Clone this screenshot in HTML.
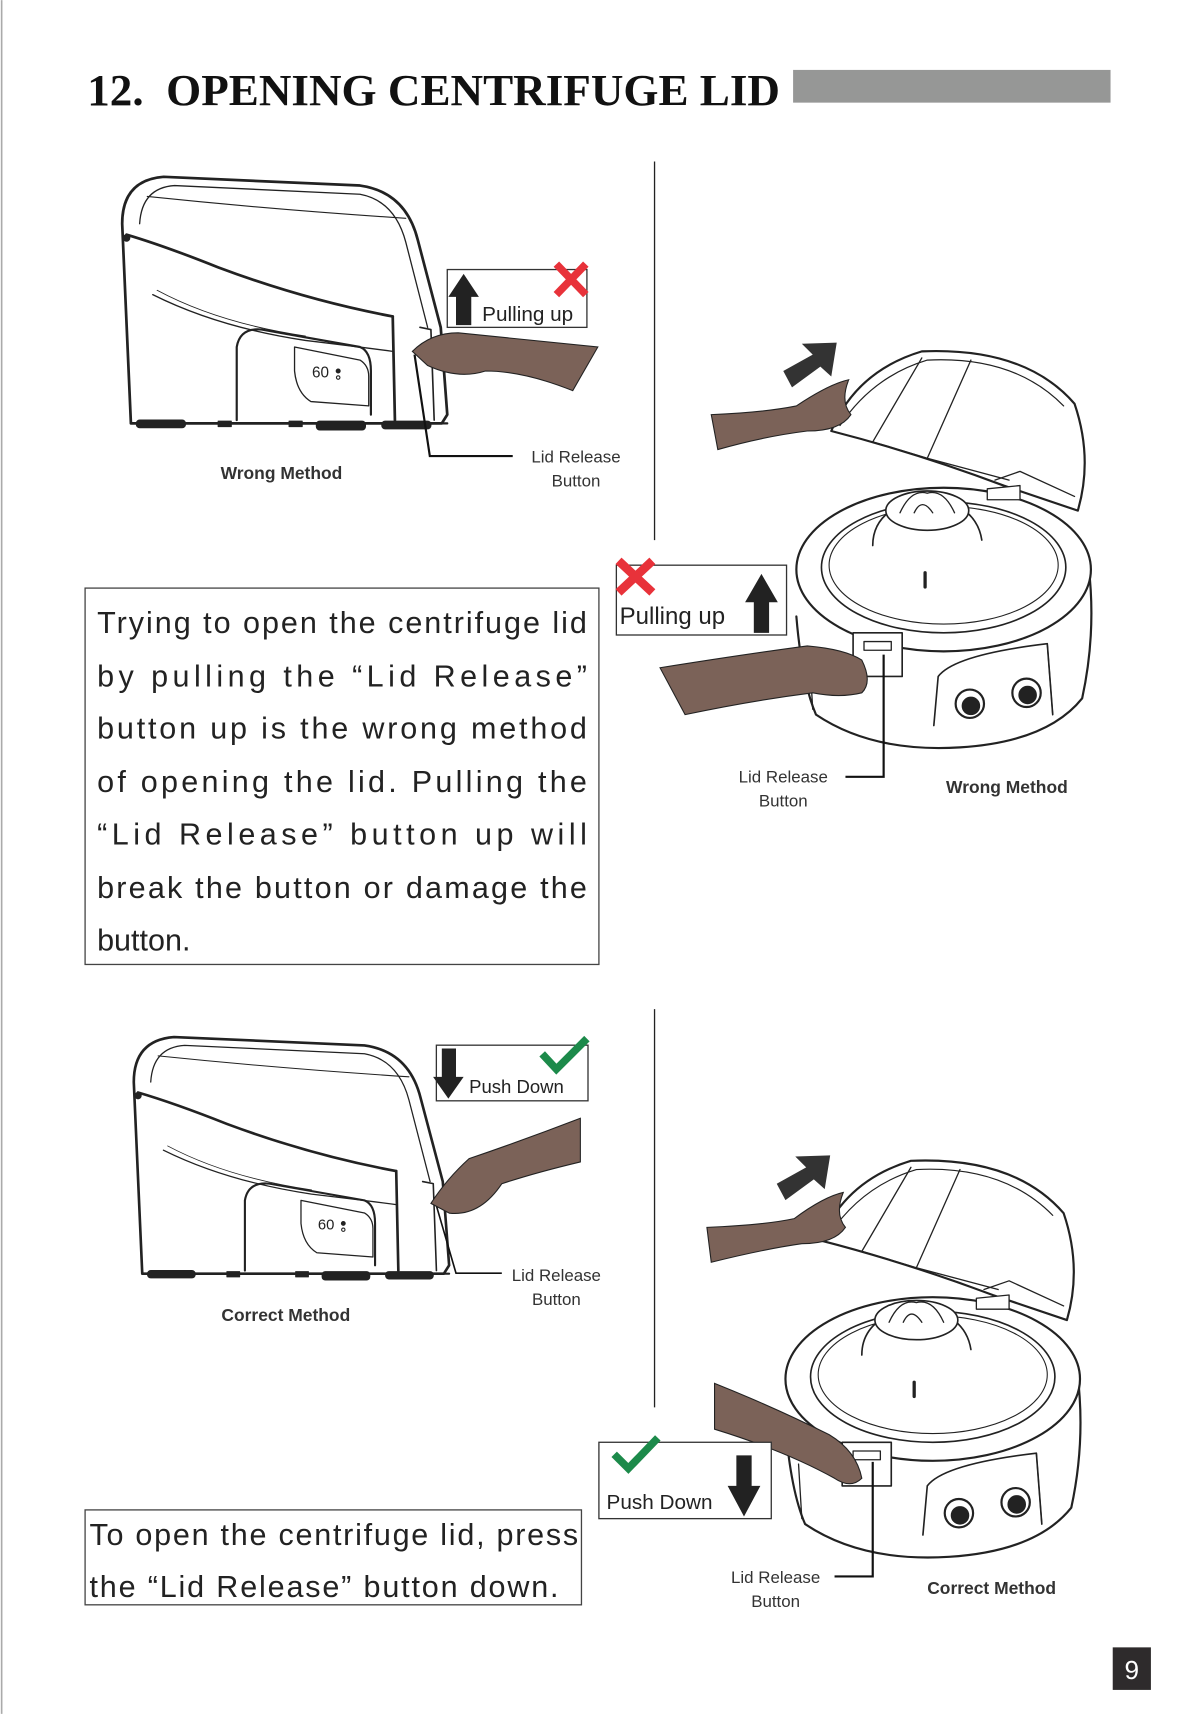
<!DOCTYPE html>
<html><head><meta charset="utf-8"><style>
html,body{margin:0;padding:0;background:#fff;}
svg{display:block;}
</style></head><body>
<svg width="1200" height="1714" viewBox="0 0 1100 1571" xmlns="http://www.w3.org/2000/svg">
<defs>
<g id="side" fill="none" stroke="#222" stroke-linecap="round" stroke-linejoin="round">
  <path d="M120,388 L112,205 Q112,165 150,162 L330,170 Q372,176 383,220 L404,300 L410,380 L405,388 Z" stroke-width="2.5" fill="#fff"/>
  <path d="M128,205 Q130,172 160,170 L330,178 Q362,184 372,222 L392,300" stroke-width="1.2"/>
  <path d="M135,180 Q250,192 372,200" stroke-width="1"/>
  <path d="M116,215 Q150,225 200,245 Q280,275 360,290" stroke-width="2.5"/>
  <path d="M140,270 Q200,300 280,312 Q330,318 360,322" stroke-width="1.2"/>
  <path d="M144,266 Q200,296 280,308" stroke-width="0.8"/>
  <path d="M360,290 L362,385" stroke-width="2.5"/>
  <path d="M217,385 L217,318 Q220,300 240,302 L330,318 Q340,322 340,340 L340,380" stroke-width="2"/>
  <path d="M270,318 L330,330 Q338,335 338,345 L338,372 L285,368 Q272,360 270,340 Z" stroke-width="1.2"/>
  <text x="286" y="346" font-family="Liberation Sans,sans-serif" font-size="14" fill="#222" stroke="none">60</text>
  <circle cx="310" cy="340" r="1.8" fill="#222"/><circle cx="310" cy="346" r="1.6"/>
  <path d="M385,300 L395,302 L398,385" stroke-width="1.5"/>
  <path d="M120,388 L410,388" stroke-width="2"/>
  <rect x="125" y="385" width="45" height="7" rx="3" fill="#222"/>
  <rect x="200" y="386" width="12" height="5" fill="#222"/>
  <rect x="265" y="386" width="12" height="5" fill="#222"/>
  <rect x="290" y="386" width="45" height="8" rx="3" fill="#222"/>
  <rect x="350" y="386" width="45" height="7" rx="3" fill="#222"/>
  <circle cx="116" cy="218" r="3" fill="#222"/>
</g>
<g id="open" fill="none" stroke="#222" stroke-linecap="round" stroke-linejoin="round">
  <path d="M730,565 Q735,625 748,655 Q800,690 880,685 Q960,680 992,640 Q1005,580 998,520" stroke-width="2" fill="#fff"/>
  <ellipse cx="865" cy="522" rx="135" ry="75" stroke-width="2" fill="#fff"/>
  <ellipse cx="865" cy="520" rx="112" ry="60" stroke-width="1.5"/>
  <ellipse cx="865" cy="518" rx="105" ry="54" stroke-width="1"/>
  <path d="M800,500 Q800,465 850,455 Q895,462 900,495" stroke-width="1.5"/>
  <ellipse cx="850" cy="468" rx="38" ry="18" stroke-width="1.5" fill="#fff"/>
  <path d="M825,470 Q835,448 850,452 Q865,448 875,470 M838,470 Q845,455 855,470" stroke-width="1.2"/>
  <path d="M848,525 L848,538" stroke-width="3"/>
  <path d="M745,650 L742,600 M965,655 L960,590" stroke-width="1.2"/>
  <path d="M856,665 L860,620 Q875,600 960,590 L965,655" stroke-width="1.5"/>
  <circle cx="889" cy="645" r="13" stroke-width="2"/>
  <circle cx="890" cy="647" r="8" fill="#222"/>
  <circle cx="941" cy="635" r="13" stroke-width="2"/>
  <circle cx="942" cy="637" r="8" fill="#222"/>
  <rect x="782" y="580" width="45" height="40" stroke-width="1.5" fill="#fff"/>
  <rect x="792" y="588" width="25" height="8" stroke-width="1.2"/>
  <path d="M762,395 Q785,340 845,322 Q940,318 985,370 Q1002,420 988,468 L920,445 Q840,415 762,395 Z" stroke-width="2" fill="#fff"/>
  <path d="M770,390 Q800,345 850,330 Q930,326 975,372" stroke-width="1.1"/>
  <path d="M845,328 L800,405 M890,330 L850,420" stroke-width="1.2"/>
  <path d="M800,405 L850,420 L925,440" stroke-width="1.2"/>
  <path d="M912,440 L935,432 L985,455" stroke-width="1.2"/>
  <path d="M905,448 L935,445 L935,458 L905,458 Z" stroke-width="1.2" fill="#fff"/>
</g>
</defs>
<rect width="1100" height="1571" fill="#fff"/>
<line x1="1.5" y1="0" x2="1.5" y2="1571" stroke="#aaa" stroke-width="1.5"/>
<text x="80" y="96" font-family="Liberation Serif,serif" font-weight="bold" font-size="41" fill="#111" textLength="635" lengthAdjust="spacingAndGlyphs">12.&#160;&#160;OPENING CENTRIFUGE LID</text>
<rect x="727" y="64" width="291" height="30" fill="#969796"/>
<line x1="600" y1="148" x2="600" y2="495" stroke="#222" stroke-width="1.2"/>
<line x1="600" y1="925" x2="600" y2="1290" stroke="#222" stroke-width="1.2"/>

<!-- top-left -->
<use href="#side"/>
<path d="M380,325 L394,418 L470,418" fill="none" stroke="#111" stroke-width="2"/>
<path d="M378,322 Q395,305 420,305 L548,318 L525,358 Q480,340 445,340 Q420,348 392,335 Z" fill="#7b6258" stroke="#222" stroke-width="1"/>
<rect x="410" y="247" width="128" height="53" fill="#fff" stroke="#333" stroke-width="1.2"/>
<path d="M418,298 L418,272 L411,272 L425,251 L439,272 L432,272 L432,298 Z" fill="#222"/>
<text x="442" y="294" font-family="Liberation Sans,sans-serif" font-size="19" fill="#222">Pulling up</text>
<path d="M510,242 L537,270 M537,242 L510,270" stroke="#e8323a" stroke-width="7"/>
<text x="258" y="439" text-anchor="middle" font-family="Liberation Sans,sans-serif" font-weight="bold" font-size="16" fill="#333">Wrong Method</text>
<text x="528" y="424" text-anchor="middle" font-family="Liberation Sans,sans-serif" font-size="15.5" fill="#333">Lid Release</text>
<text x="528" y="446" text-anchor="middle" font-family="Liberation Sans,sans-serif" font-size="15.5" fill="#333">Button</text>

<!-- text box 1 -->
<rect x="78" y="539" width="471" height="345" fill="none" stroke="#444" stroke-width="1.2"/>
<g font-family="Liberation Sans,sans-serif" font-size="28" fill="#222">
<text x="89" y="580" textLength="449" lengthAdjust="spacing">Trying to open the centrifuge lid</text>
<text x="89" y="629" textLength="449" lengthAdjust="spacing">by pulling the “Lid Release”</text>
<text x="89" y="677" textLength="449" lengthAdjust="spacing">button up is the wrong method</text>
<text x="89" y="726" textLength="449" lengthAdjust="spacing">of opening the lid. Pulling the</text>
<text x="89" y="774" textLength="449" lengthAdjust="spacing">“Lid Release” button up will</text>
<text x="89" y="823" textLength="449" lengthAdjust="spacing">break the button or damage the</text>
<text x="89" y="871">button.</text>
</g>

<!-- top-right -->
<use href="#open"/>
<path d="M718,340 L745,325 L735,315 L767,314 L762,345 L752,336 L726,355 Z" fill="#333"/>
<path d="M652,380 Q700,378 730,372 Q760,352 778,348 Q770,368 780,380 Q770,395 740,395 Q700,400 658,412 Z" fill="#7b6258" stroke="#222" stroke-width="1"/>
<path d="M605,612 Q680,600 740,592 Q775,595 790,605 Q800,625 790,635 Q770,640 745,635 Q690,642 628,655 Z" fill="#7b6258" stroke="#222" stroke-width="1"/>
<path d="M810,600 L810,712 L775,712" fill="none" stroke="#111" stroke-width="2"/>
<rect x="565" y="518" width="156" height="64" fill="#fff" stroke="#333" stroke-width="1.2"/>
<path d="M691,580 L691,552 L683,552 L698,526 L713,552 L705,552 L705,580 Z" fill="#222"/>
<text x="568" y="572" font-family="Liberation Sans,sans-serif" font-size="22" fill="#222">Pulling up</text>
<path d="M567,514 L598,543 M598,514 L567,543" stroke="#e8323a" stroke-width="8"/>
<text x="718" y="717" text-anchor="middle" font-family="Liberation Sans,sans-serif" font-size="15.5" fill="#333">Lid Release</text>
<text x="718" y="739" text-anchor="middle" font-family="Liberation Sans,sans-serif" font-size="15.5" fill="#333">Button</text>
<text x="923" y="727" text-anchor="middle" font-family="Liberation Sans,sans-serif" font-weight="bold" font-size="16" fill="#333">Wrong Method</text>

<!-- bottom-left -->
<use href="#side" transform="translate(14,795) scale(0.97,0.96)"/>
<path d="M400,1105 L418,1167 L460,1167" fill="none" stroke="#111" stroke-width="1.5"/>
<path d="M395,1103 Q410,1080 430,1062 Q480,1045 532,1025 L532,1065 Q490,1075 460,1085 Q440,1115 412,1112 Z" fill="#7b6258" stroke="#222" stroke-width="1"/>
<rect x="400" y="958" width="139" height="51" fill="#fff" stroke="#333" stroke-width="1.2"/>
<path d="M405,961 L418,961 L418,987 L425,987 L411,1007 L397,987 L405,987 Z" fill="#222"/>
<text x="430" y="1002" font-family="Liberation Sans,sans-serif" font-size="17" fill="#222">Push Down</text>
<path d="M497,966 L510,980 L538,952" fill="none" stroke="#1c8a4a" stroke-width="7"/>
<text x="510" y="1174" text-anchor="middle" font-family="Liberation Sans,sans-serif" font-size="15.5" fill="#333">Lid Release</text>
<text x="510" y="1196" text-anchor="middle" font-family="Liberation Sans,sans-serif" font-size="15.5" fill="#333">Button</text>
<text x="262" y="1211" text-anchor="middle" font-family="Liberation Sans,sans-serif" font-weight="bold" font-size="16" fill="#333">Correct Method</text>

<!-- text box 2 -->
<rect x="78" y="1384" width="455" height="87" fill="none" stroke="#444" stroke-width="1.2"/>
<g font-family="Liberation Sans,sans-serif" font-size="28" fill="#222">
<text x="82" y="1416" textLength="448" lengthAdjust="spacing">To open the centrifuge lid, press</text>
<text x="82" y="1464" textLength="430" lengthAdjust="spacing">the “Lid Release” button down.</text>
</g>

<!-- bottom-right -->
<use href="#open" transform="translate(-10,742)"/>
<path d="M712,1085 L739,1070 L729,1060 L761,1059 L756,1090 L746,1081 L720,1100 Z" fill="#333"/>
<path d="M648,1125 Q700,1123 728,1117 Q755,1097 773,1093 Q765,1113 775,1125 Q765,1140 735,1140 Q700,1145 652,1157 Z" fill="#7b6258" stroke="#222" stroke-width="1"/>
<path d="M655,1268 Q710,1290 760,1315 Q785,1330 790,1355 Q780,1365 765,1355 Q720,1330 655,1310 Z" fill="#7b6258" stroke="#222" stroke-width="1"/>
<path d="M800,1340 L800,1445 L765,1445" fill="none" stroke="#111" stroke-width="2"/>
<rect x="549" y="1322" width="158" height="70" fill="#fff" stroke="#333" stroke-width="1.2"/>
<path d="M675,1334 L689,1334 L689,1362 L697,1362 L682,1390 L667,1362 L675,1362 Z" fill="#222"/>
<text x="556" y="1383" font-family="Liberation Sans,sans-serif" font-size="19" fill="#222">Push Down</text>
<path d="M563,1333 L576,1346 L603,1318" fill="none" stroke="#1c8a4a" stroke-width="7"/>
<text x="711" y="1451" text-anchor="middle" font-family="Liberation Sans,sans-serif" font-size="15.5" fill="#333">Lid Release</text>
<text x="711" y="1473" text-anchor="middle" font-family="Liberation Sans,sans-serif" font-size="15.5" fill="#333">Button</text>
<text x="909" y="1461" text-anchor="middle" font-family="Liberation Sans,sans-serif" font-weight="bold" font-size="16" fill="#333">Correct Method</text>

<rect x="1020" y="1510" width="35" height="39" fill="#2e2b2c"/>
<text x="1037.5" y="1539" text-anchor="middle" font-family="Liberation Sans,sans-serif" font-size="24" fill="#fff">9</text>
</svg>
</body></html>
